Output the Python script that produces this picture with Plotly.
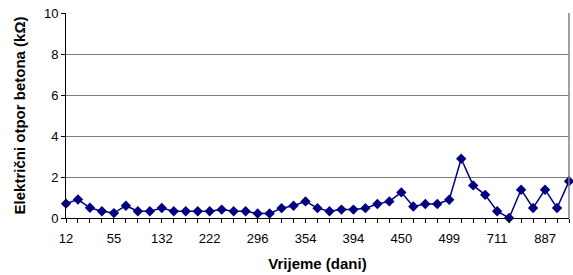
import plotly.graph_objects as go

# Values (kΩ) for each measurement, in order (43 measurements)
resistance = [0.7, 0.9, 0.5, 0.33, 0.24, 0.6, 0.33, 0.33, 0.49, 0.33,
              0.33, 0.33, 0.33, 0.41, 0.33, 0.33, 0.22, 0.22, 0.48, 0.6,
              0.81, 0.48, 0.33, 0.41, 0.41, 0.48, 0.68, 0.81, 1.25, 0.56,
              0.68, 0.68, 0.89, 2.89, 1.59, 1.13, 0.33, 0.0, 1.38, 0.49,
              1.38, 0.49, 1.79]
# Tick labels (days), shown every 4th measurement
tick_labels = ["12", "55", "132", "222", "296", "354", "394", "450", "499", "711", "887"]

idx = list(range(len(resistance)))
tick_pos = idx[::4][:len(tick_labels)]

navy = "#000080"
tick_font = dict(family="Liberation Sans, Arial, sans-serif", size=13, color="#000000")
title_font = dict(family="Liberation Sans, Arial, sans-serif", size=15, color="#000000")

fig = go.Figure()
fig.add_trace(go.Scatter(
    x=idx, y=resistance, mode="lines+markers",
    line=dict(color=navy, width=1.5),
    marker=dict(symbol="diamond", size=8, color=navy),
    cliponaxis=False, showlegend=False,
))

fig.update_layout(
    width=573, height=275,
    margin=dict(l=66, r=4, t=13, b=57, autoexpand=False),
    paper_bgcolor="white", plot_bgcolor="white",
    font=tick_font,
    xaxis=dict(
        range=[0, len(resistance) - 1],
        tickmode="array", tickvals=tick_pos, ticktext=tick_labels,
        ticks="outside", ticklen=4, tickcolor="#000000",
        minor=dict(dtick=1, tick0=0, ticks="outside", ticklen=4, tickcolor="#000000", showgrid=False),
        showline=True, linecolor="#000000", linewidth=1,
        showgrid=False, zeroline=False,
        automargin=False,
        tickfont=tick_font,
        title=dict(text="<b>Vrijeme (dani)</b>", standoff=13, font=title_font),
        ticklabelstandoff=4,
    ),
    yaxis=dict(
        range=[0, 10], dtick=2, tick0=0,
        ticks="outside", ticklen=4, tickcolor="#000000",
        showline=True, linecolor="#000000", linewidth=1,
        showgrid=True, gridcolor="#808080", gridwidth=1,
        zeroline=False,
        automargin=False,
        tickfont=tick_font,
        title=dict(text="<b>Električni otpor betona (kΩ)</b>", standoff=14, font=title_font),
    ),
    shapes=[dict(type="line", xref="paper", yref="paper", x0=1, x1=1, y0=0, y1=1,
                 line=dict(color="#808080", width=1.5))],
)

fig.write_html("out.html", post_script="document.body.style.margin='0';",
               config={"displayModeBar": False})
